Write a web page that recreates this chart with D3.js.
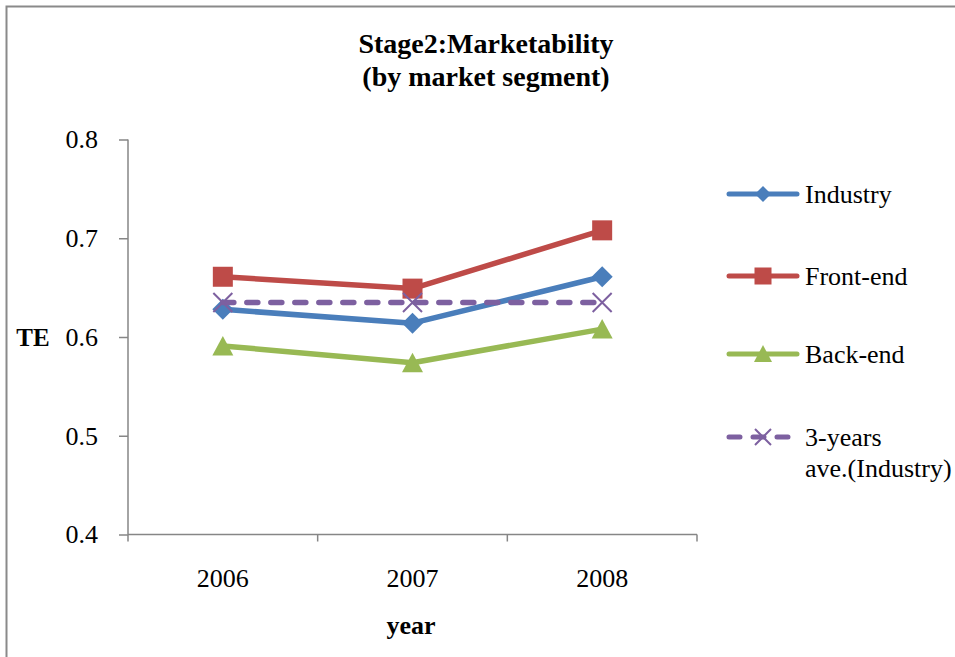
<!DOCTYPE html>
<html><head><meta charset="utf-8">
<script src="https://cdn.jsdelivr.net/npm/d3@7"></script>
<style>html,body{margin:0;padding:0;background:#fff;}svg{display:block;}
text{font-family:"Liberation Serif","Times New Roman",Tinos,"DejaVu Serif",serif;}</style>
</head><body>
<svg id="c" width="955" height="657"></svg>
<script>
const years = ["2006", "2007", "2008"];
const industry = [0.628, 0.614, 0.661];
const frontEnd = [0.661, 0.649, 0.708];
const backEnd = [0.591, 0.574, 0.608];
const avgIndustry = [0.635, 0.635, 0.635];
const yTicks = [0.4, 0.5, 0.6, 0.7, 0.8];
const seriesNames = ["Industry", "Front-end", "Back-end", "3-years ave.(Industry)"];

const series = [
  {name: seriesNames[0], values: industry, color: "#4A7EBB", marker: "diamond", dash: null},
  {name: seriesNames[1], values: frontEnd, color: "#BE4B48", marker: "square", dash: null},
  {name: seriesNames[2], values: backEnd, color: "#98B954", marker: "triangle", dash: null},
  {name: seriesNames[3], values: avgIndustry, color: "#7D60A0", marker: "x", dash: "11,13"}
];

const svg = d3.select("#c");
const font = null;
const axisColor = "#868686";

svg.append("rect").attr("x", 6.5).attr("y", 6.5).attr("width", 960).attr("height", 670)
  .attr("fill", "none").attr("stroke", "#8a8a8a").attr("stroke-width", 2);

const pLeft = 128, pRight = 697, pTop = 139.5, pBottom = 534.5;
const x = d3.scaleBand().domain(years).range([pLeft, pRight]);
const y = d3.scaleLinear().domain([0.4, 0.8]).range([pBottom, pTop]);

const title = svg.append("text").attr("text-anchor", "middle")
  .attr("font-weight", "bold").attr("font-size", 28).attr("fill", "#000");
title.append("tspan").attr("x", 486).attr("y", 53).text("Stage2:Marketability");
title.append("tspan").attr("x", 486).attr("y", 86).text("(by market segment)");

const yAxis = svg.append("g").attr("transform", `translate(${pLeft},0)`)
  .call(d3.axisLeft(y).tickValues(yTicks).tickFormat(d3.format(".1f")).tickSize(9).tickPadding(21));
yAxis.attr("font-family", null);
yAxis.select(".domain").attr("stroke", axisColor).attr("stroke-width", 1.5).attr("d", `M0,${pTop}V${pBottom}`);
yAxis.selectAll(".tick line").attr("stroke", axisColor).attr("stroke-width", 1.5);
yAxis.selectAll(".tick text").attr("font-size", 26).attr("fill", "#000");

const xAxis = svg.append("g").attr("transform", `translate(0,${pBottom})`)
  .call(d3.axisBottom(x).tickSize(0).tickPadding(34));
xAxis.attr("font-family", null);
xAxis.select(".domain").attr("stroke", axisColor).attr("stroke-width", 1.5).attr("d", `M${pLeft},0H${pRight}`);
xAxis.selectAll(".tick text").attr("font-size", 26).attr("fill", "#000");
const bounds = years.map(d => x(d)).concat([x(years[years.length - 1]) + x.bandwidth()]);
xAxis.selectAll("line.bt").data(bounds).enter().append("line").attr("class", "bt")
  .attr("x1", d => d).attr("x2", d => d).attr("y1", 0).attr("y2", 7)
  .attr("stroke", axisColor).attr("stroke-width", 1.5);

svg.append("text").attr("x", 33).attr("y", 346).attr("text-anchor", "middle")
  .attr("font-weight", "bold").attr("font-size", 25).text("TE");
svg.append("text").attr("x", 411).attr("y", 634).attr("text-anchor", "middle")
  .attr("font-weight", "bold").attr("font-size", 26).text("year");

const cx = d => x(d) + x.bandwidth() / 2;

function drawMarker(g, type, color, px, py) {
  if (type === "diamond") {
    g.append("path").attr("d", `M${px},${py - 10.5}L${px + 10.5},${py}L${px},${py + 10.5}L${px - 10.5},${py}Z`).attr("fill", color);
  } else if (type === "square") {
    g.append("rect").attr("x", px - 10).attr("y", py - 10).attr("width", 20).attr("height", 20).attr("fill", color);
  } else if (type === "triangle") {
    g.append("path").attr("d", `M${px},${py - 10}L${px + 10.5},${py + 9.5}L${px - 10.5},${py + 9.5}Z`).attr("fill", color);
  } else if (type === "x") {
    g.append("path").attr("d", `M${px - 9.5},${py - 9.5}L${px + 9.5},${py + 9.5}M${px + 9.5},${py - 9.5}L${px - 9.5},${py + 9.5}`)
      .attr("stroke", color).attr("stroke-width", 2).attr("fill", "none");
  }
}

const line = d3.line().x((d, i) => cx(years[i])).y(d => y(d));
series.forEach(s => {
  const g = svg.append("g");
  g.append("path").datum(s.values).attr("d", line).attr("fill", "none")
    .attr("stroke", s.color).attr("stroke-width", 5.5).attr("stroke-linejoin", "round")
    .attr("stroke-linecap", "round").attr("stroke-dasharray", s.dash);
  s.values.forEach((v, i) => drawMarker(g, s.marker, s.color, cx(years[i]), y(v)));
});

const legendY = [194, 276, 354, 437];
series.forEach((s, i) => {
  const g = svg.append("g");
  const ly = legendY[i];
  g.append("line").attr("x1", 729).attr("x2", 797).attr("y1", ly).attr("y2", ly)
    .attr("stroke", s.color).attr("stroke-width", 5).attr("stroke-linecap", "round")
    .attr("stroke-dasharray", s.dash ? "11,13" : null);
  const mk = s.marker;
  if (mk === "diamond") {
    g.append("path").attr("d", `M763,${ly - 8}L771,${ly}L763,${ly + 8}L755,${ly}Z`).attr("fill", s.color);
  } else if (mk === "square") {
    g.append("rect").attr("x", 754.5).attr("y", ly - 8.5).attr("width", 17).attr("height", 17).attr("fill", s.color);
  } else if (mk === "triangle") {
    g.append("path").attr("d", `M763,${ly - 9}L772,${ly + 8}L754,${ly + 8}Z`).attr("fill", s.color);
  } else {
    g.append("path").attr("d", `M755,${ly - 8}L771,${ly + 8}M771,${ly - 8}L755,${ly + 8}`)
      .attr("stroke", s.color).attr("stroke-width", 2);
  }
  const t = g.append("text").attr("font-size", 26).attr("fill", "#000");
  if (i === 3) {
    t.append("tspan").attr("x", 805).attr("y", ly + 9).text("3-years");
    t.append("tspan").attr("x", 805).attr("y", ly + 40).text("ave.(Industry)");
  } else {
    t.attr("x", 805).attr("y", ly + 9).text(s.name);
  }
});
</script>
</body></html>
